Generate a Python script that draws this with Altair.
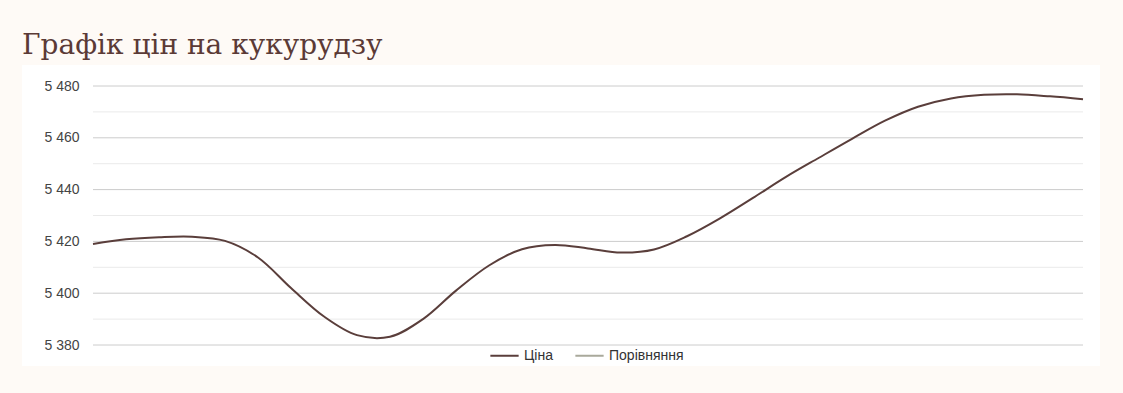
import altair as alt
import pandas as pd

prices = [5419.0, 5420.8, 5421.6, 5421.8, 5420.2, 5413.8, 5402.0, 5391.0,
          5383.8, 5383.2, 5390.0, 5401.0, 5410.7, 5417.0, 5418.6, 5417.3,
          5415.7, 5416.9, 5422.0, 5428.9, 5436.8, 5444.9, 5452.3, 5459.6,
          5466.6, 5472.0, 5475.2, 5476.6, 5476.8, 5476.0, 5474.9]
series_names = ["Ціна", "Порівняння"]
series_colors = ["#5a3e3b", "#a9a99b"]
y_ticks = [5380, 5390, 5400, 5410, 5420, 5430, 5440, 5450, 5460, 5470, 5480]

df = pd.DataFrame({
    "idx": list(range(len(prices))),
    "price": prices,
    "series": ["Ціна"] * len(prices),
})
grid_df = pd.DataFrame({"v": y_ticks, "major": [v % 20 == 0 for v in y_ticks]})

y_scale = alt.Scale(domain=[5380, 5480], nice=False, zero=False)
y_axis = alt.Axis(
    values=[5380, 5400, 5420, 5440, 5460, 5480], title=None, domain=False,
    ticks=False, grid=False, zindex=1,
    labelExpr="replace(format(datum.value, ','), ',', ' ')",
    labelFont="Liberation Sans", labelFontSize=14, labelColor="#444444",
    labelPadding=14,
)

panel = alt.Chart(pd.DataFrame({"a": [0]})).mark_rect(color="white").encode(
    x=alt.value(-71), x2=alt.value(1007), y=alt.value(-21), y2=alt.value(280)
)

grid = alt.Chart(grid_df).mark_rule(strokeWidth=1).encode(
    y=alt.Y("v:Q", scale=y_scale, axis=y_axis),
    color=alt.condition("datum.major", alt.value("#cccccc"), alt.value("#eaeaea")),
)

line = alt.Chart(df).mark_line(interpolate="catmull-rom", strokeWidth=2).encode(
    x=alt.X("idx:Q", axis=None, scale=alt.Scale(domain=[0, len(prices) - 1], nice=False)),
    y=alt.Y("price:Q", scale=y_scale, axis=y_axis),
    color=alt.Color("series:N",
                    scale=alt.Scale(domain=series_names, range=series_colors),
                    legend=alt.Legend(title=None, orient="none", direction="horizontal",
                                      legendX=396, legendY=254, zindex=1,
                                      symbolType="stroke", symbolSize=800, symbolStrokeWidth=2,
                                      labelFont="Liberation Sans", labelFontSize=14,
                                      labelColor="#333333", columnPadding=18, labelOffset=4)),
)

chart = alt.layer(panel, grid, line).properties(
    width=990, height=259,
    autosize=alt.AutoSizeParams(type="none"),
    padding={"left": 93, "top": 86, "right": 40, "bottom": 48},
    background="#fefaf6",
    title=alt.TitleParams("Графік цін на кукурудзу", anchor="start", font="DejaVu Serif",
                          fontSize=28, fontWeight="normal", color="#5b3a36",
                          dx=-71, offset=0, baseline="alphabetic", dy=17, frame="group",
                          zindex=1),
).configure_view(stroke=None)

chart.save("out.html", embed_options={"renderer": "svg", "actions": False})
